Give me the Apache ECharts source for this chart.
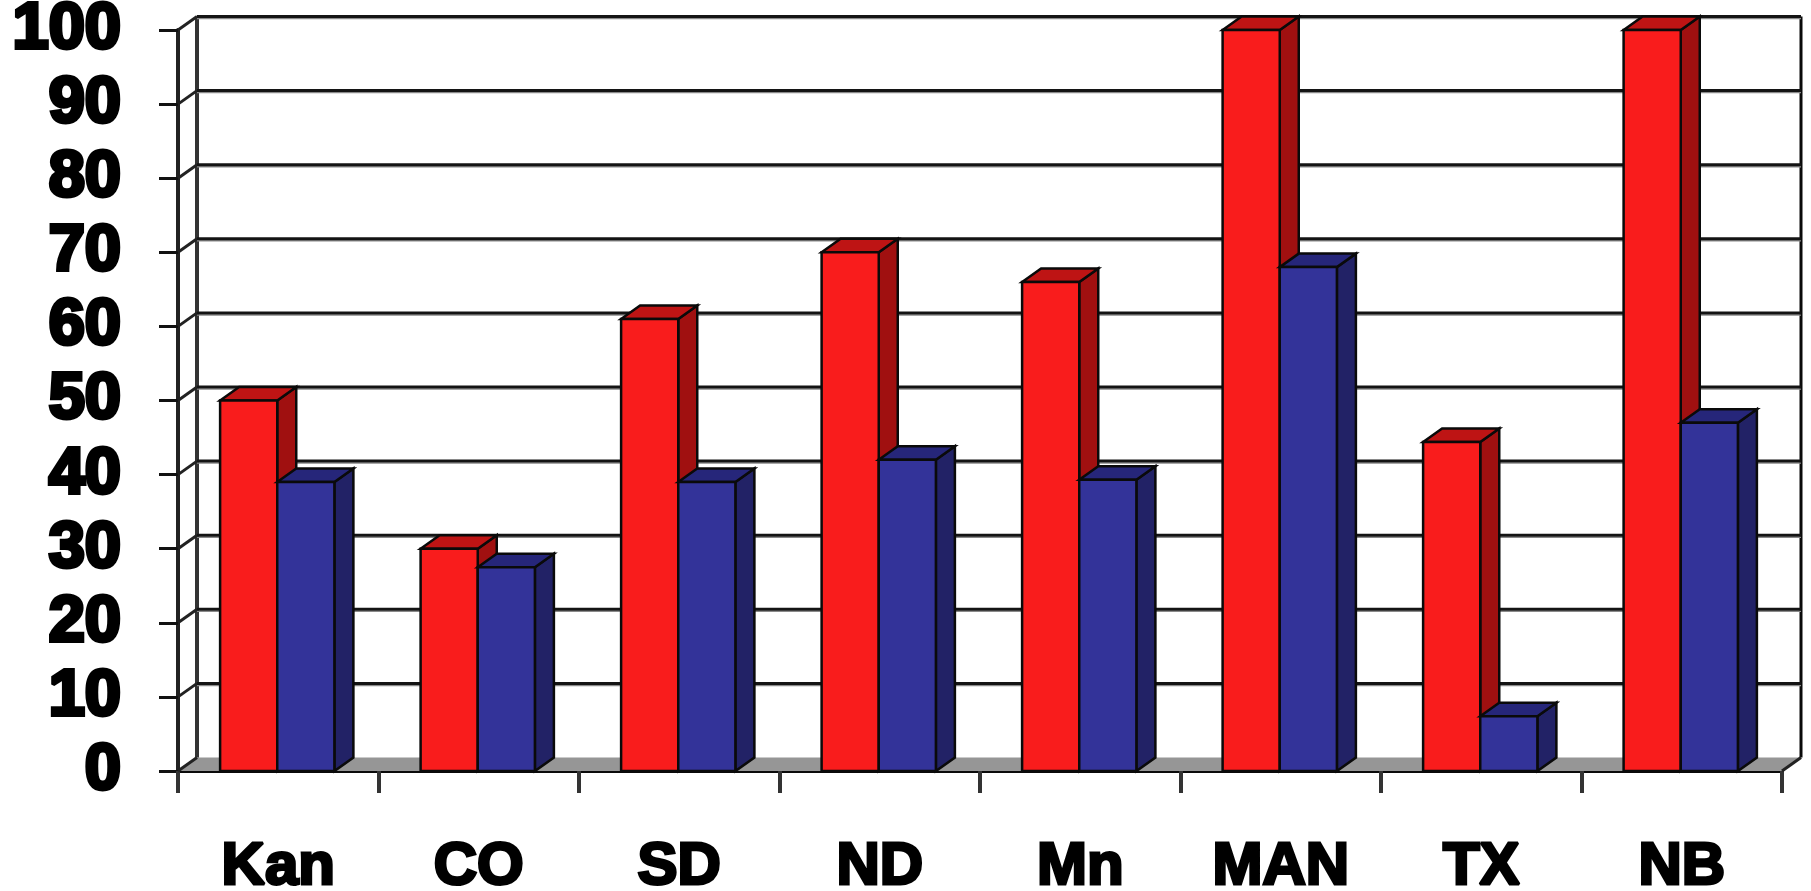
<!DOCTYPE html>
<html>
<head>
<meta charset="utf-8">
<style>html,body{margin:0;padding:0;background:#fff}#chart{width:1811px;height:891px}</style>
<script src="https://cdn.jsdelivr.net/npm/echarts@6/dist/echarts.min.js"></script>
</head>
<body>
<div id="chart"></div>
<script>
const categories = ['Kan', 'CO', 'SD', 'ND', 'Mn', 'MAN', 'TX', 'NB'];
const redValues = [50, 30, 61, 70, 66, 100, 44.4, 100];
const blueValues = [39, 27.5, 39, 42, 39.3, 68, 7.4, 47];
const yTicks = [0, 10, 20, 30, 40, 50, 60, 70, 80, 90, 100];

// Oblique projection offset of the back plane
const DEPTH_X = 19;
const DEPTH_Y = 13.5;
const BAR_RATIO = 0.285;
const BAR_SHIFT = -1;
const OUTLINE = { stroke: '#0a0a0a', lineWidth: 2.5, lineJoin: 'miter' };

const chart = echarts.init(document.getElementById('chart'), null, { renderer: 'canvas' });

function poly(points, fill, style) {
  return { type: 'polygon', shape: { points }, style: Object.assign({ fill }, style || OUTLINE) };
}
function line(x1, y1, x2, y2, stroke, lineWidth) {
  return { type: 'line', shape: { x1, y1, x2, y2 }, style: { stroke, lineWidth } };
}

// Floor, walls and gridlines of the 3D frame
function renderFrame(params, api) {
  const box = params.coordSys;
  const left = box.x, right = box.x + box.width;
  const y = api.coord([0, api.value(1)])[1];
  const parts = [];
  if (params.dataIndex === 0) {
    const bottom = box.y + box.height, top = box.y;
    parts.push(poly([[left, bottom], [left + DEPTH_X, bottom - DEPTH_Y], [right + DEPTH_X, bottom - DEPTH_Y], [right, bottom]], '#969696', { stroke: 'none' }));
    parts.push(line(left + DEPTH_X, top - DEPTH_Y, left + DEPTH_X, bottom - DEPTH_Y, '#333', 4));
    parts.push(line(right + DEPTH_X, top - DEPTH_Y, right + DEPTH_X, bottom - DEPTH_Y, '#0a0a0a', 3));
    parts.push(line(right, bottom, right + DEPTH_X, bottom - DEPTH_Y, '#222', 3));
  }
  parts.push(line(left, y, left + DEPTH_X, y - DEPTH_Y, '#222', 3));
  if (api.value(1) > 0) {
    parts.push(line(left + DEPTH_X, y - DEPTH_Y + 2, right + DEPTH_X, y - DEPTH_Y + 2, '#8a8a8a', 1.5));
    parts.push(line(left + DEPTH_X, y - DEPTH_Y, right + DEPTH_X, y - DEPTH_Y, '#141414', 3));
  }
  return { type: 'group', children: parts };
}

// One extruded bar: side = -1 sits left of the category centre, side = 0 right of it
function barRenderer(side, front, topFace, sideFace) {
  return function (params, api) {
    const top = api.coord([api.value(0), api.value(1)]);
    const base = api.coord([api.value(0), 0]);
    const w = api.size([1, 0])[0] * BAR_RATIO;
    const x0 = top[0] + side * w + BAR_SHIFT, x1 = x0 + w;
    return {
      type: 'group',
      children: [
        poly([[x1, top[1]], [x1 + DEPTH_X, top[1] - DEPTH_Y], [x1 + DEPTH_X, base[1] - DEPTH_Y], [x1, base[1]]], sideFace),
        poly([[x0, top[1]], [x0 + DEPTH_X, top[1] - DEPTH_Y], [x1 + DEPTH_X, top[1] - DEPTH_Y], [x1, top[1]]], topFace),
        poly([[x0, top[1]], [x1, top[1]], [x1, base[1]], [x0, base[1]]], front)
      ]
    };
  };
}

const labelFont = {
  color: '#000',
  fontFamily: '"Liberation Sans", Arial, sans-serif',
  fontWeight: 'bold',
  textBorderColor: '#000'
};

chart.setOption({
  animation: false,
  backgroundColor: '#fff',
  grid: { left: 178, right: 29, top: 30, bottom: 120, containLabel: false, outerBoundsMode: 'none' },
  xAxis: {
    type: 'category',
    data: categories,
    boundaryGap: true,
    axisLine: { show: true, onZero: true, lineStyle: { color: '#0a0a0a', width: 3 } },
    axisTick: { show: true, length: 22, lineStyle: { color: '#333', width: 4 } },
    axisLabel: Object.assign({ margin: 66, interval: 0, fontSize: 60, textBorderWidth: 3 }, labelFont),
    splitLine: { show: false }
  },
  yAxis: {
    type: 'value',
    min: 0,
    max: 100,
    interval: 10,
    axisLine: { show: true, lineStyle: { color: '#222', width: 4 } },
    axisTick: { show: true, length: 19, lineStyle: { color: '#111', width: 3 } },
    axisLabel: Object.assign({ margin: 57, fontSize: 65, textBorderWidth: 4 }, labelFont),
    splitLine: { show: false }
  },
  series: [
    { type: 'custom', z: 1, silent: true, renderItem: renderFrame,
      data: yTicks.map(t => [0, t]) },
    { type: 'custom', z: 2, renderItem: barRenderer(-1, '#F91C1C', '#BE1414', '#A01010'),
      data: redValues.map((v, i) => [i, v]) },
    { type: 'custom', z: 3, renderItem: barRenderer(0, '#333399', '#26267A', '#222266'),
      data: blueValues.map((v, i) => [i, v]) }
  ]
});
</script>
</body>
</html>
